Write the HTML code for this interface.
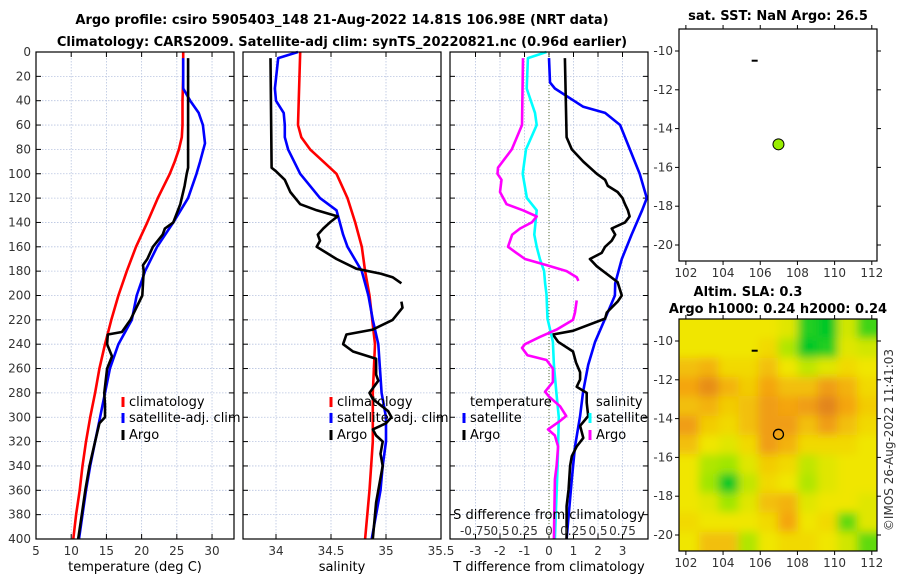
<!DOCTYPE html>
<html><head><meta charset="utf-8">
<style>
html,body{margin:0;padding:0;background:#fff;}
svg{display:block;font-family:"DejaVu Sans","Liberation Sans",sans-serif;}
.tk{font-size:12px;fill:#333;}
.ttl{font-size:13px;font-weight:bold;fill:#000;}
.lg{font-size:13px;fill:#000;}
</style></head>
<body>
<svg id="chart" width="900" height="580" viewBox="0 0 900 580" xmlns="http://www.w3.org/2000/svg">
<defs>
<clipPath id="mapclip"><rect x="679" y="319" width="198" height="232"/></clipPath>
<filter id="blur" x="-5%" y="-5%" width="110%" height="110%"><feGaussianBlur stdDeviation="4.5"/></filter>
</defs>
<text class="ttl" x="342" y="24" text-anchor="middle">Argo profile: csiro 5905403_148 21-Aug-2022 14.81S 106.98E (NRT data)</text>
<text class="ttl" x="342" y="46" text-anchor="middle">Climatology: CARS2009. Satellite-adj clim: synTS_20220821.nc (0.96d earlier)</text>
<g id="g"></g>
</svg>
<script>
// ===== data =====
const tClimDepth=[0,20,40,60,70,80,90,100,120,140,160,180,200,220,240,260,280,300,320,340,360,380,400];
const tClimVals=[25.9,25.9,25.8,25.8,25.7,25.3,24.7,24.0,22.3,20.8,19.2,17.9,16.7,15.7,14.8,14.0,13.4,12.7,12.1,11.6,11.2,10.7,10.3];
const tSatDepth=[5,30,40,50,60,75,90,100,120,140,160,180,200,220,240,260,280,300,320,340,360,380,400];
const tSatVals=[25.9,25.9,26.9,28.1,28.7,29.0,28.3,27.8,26.6,24.5,22.2,20.5,19.3,18.6,16.7,15.5,14.8,14.1,13.4,12.7,12.1,11.6,11.1];
const tArgoDepth=[5,95,100,110,125,140,145,150,160,170,175,180,190,200,220,230,232,240,250,260,280,290,300,305,320,340,360,380,400];
const tArgoVals=[26.6,26.6,26.4,26.1,25.5,24.5,23.3,23.0,21.6,20.8,20.2,20.3,20.2,20.1,18.4,17.2,15.2,15.1,15.8,15.1,14.7,14.8,14.8,14.0,13.4,12.6,12.0,11.5,11.0];

const sClimDepth=[0,60,70,80,90,100,120,140,160,180,200,240,280,320,360,400];
const sClimVals=[34.22,34.20,34.23,34.31,34.43,34.55,34.65,34.72,34.78,34.81,34.85,34.90,34.88,34.88,34.85,34.81];
const sSatDepth=[0,5,30,40,50,60,70,80,100,120,130,140,150,160,180,200,220,240,280,300,320,340,360,400];
const sSatVals=[34.2,34.02,33.99,34.0,34.07,34.08,34.08,34.11,34.22,34.4,34.55,34.58,34.61,34.65,34.78,34.84,34.88,34.93,34.96,35.0,35.0,34.97,34.95,34.87];
const sArgoDepth=[5,95,98,105,115,125,130,135,140,145,150,155,160,165,170,178,182,185,190,null,205,210,220,228,232,240,246,252,265,270,280,285,295,300,305,310,315,320,330,340,350,370,400];
const sArgoVals=[33.95,33.96,34.0,34.08,34.13,34.22,34.37,34.56,34.49,34.43,34.38,34.4,34.37,34.46,34.55,34.73,34.95,35.06,35.14,null,35.14,35.15,35.06,34.88,34.64,34.61,34.70,34.91,34.91,34.93,34.85,34.88,35.02,35.05,35.0,34.88,34.91,34.97,34.95,34.97,34.95,34.91,34.88];

const dTSatDepth=[5,25,30,45,50,60,80,100,120,130,150,170,190,200,219,238,257,279,299,324,351,400];
const dTSatVals=[0,0.04,0.24,1.4,2.29,2.9,3.3,3.7,3.99,3.8,3.37,2.97,2.7,2.69,2.29,1.88,1.6,1.39,1.27,1.06,0.93,0.72];
const dTArgoDepth=[5,70,80,90,100,105,110,115,120,125,130,135,140,145,150,155,160,165,170,176,189,200,205,214,219,229,232,238,246,255,263,269,275,280,288,299,307,317,324,332,340,359,373,400];
const dTArgoVals=[0.65,0.72,0.93,1.4,1.95,2.29,2.4,2.8,3.0,3.1,3.22,3.29,3.1,2.56,2.7,2.56,2.29,2.15,1.67,1.95,2.8,2.97,2.8,2.36,2.29,0.98,0.16,0.37,0.98,1.1,1.27,1.27,1.13,1.54,1.54,1.6,1.27,1.4,1.13,0.93,0.86,0.8,0.72,0.72];
const dSSatDepth=[0,5,30,50,60,80,100,120,130,150,160,170,180,190,199,219,238,257,280,300,340,400];
const dSSatVals=[-0.025,-0.215,-0.228,-0.143,-0.125,-0.235,-0.268,-0.225,-0.125,-0.15,-0.125,-0.093,-0.05,-0.04,-0.025,-0.015,0.04,0.05,0.075,0.1,0.088,0.06];
const dSArgoDepth=[5,60,80,95,100,105,115,125,130,135,140,145,150,160,165,170,175,180,185,188,null,204,214,220,228,234,240,243,249,253,260,271,279,283,291,299,303,310,315,324,340,351,400];
const dSArgoVals=[-0.265,-0.275,-0.38,-0.52,-0.525,-0.485,-0.5,-0.433,-0.265,-0.125,-0.175,-0.295,-0.375,-0.418,-0.333,-0.245,-0.025,0.18,0.283,0.3,null,0.283,0.265,0.245,0.078,-0.093,-0.245,-0.275,-0.22,-0.025,0.04,0.04,-0.04,0,0.113,0.175,0.113,-0.01,0.06,0.093,0.078,0.06,0.05];

const depthTicks=[0,20,40,60,80,100,120,140,160,180,200,220,240,260,280,300,320,340,360,380,400];
const tTicks=[5,10,15,20,25,30];
const sTicks=[34,34.5,35,35.5];
const dTTicks=[-3,-2,-1,0,1,2,3];
const dSTicks=[-0.75,-0.5,-0.25,0,0.25,0.5,0.75];
const dSTickLabels=["-0.75","0.5","0.25","0","0.25","0.5","0.75"];
const lonTicks=[102,104,106,108,110,112];
const latTicks=[-10,-12,-14,-16,-18,-20];
const argoLon=106.98, argoLat=-14.81;
const markLon=105.7, markLat=-10.5;
const slaGrid=[
[1,1,1,1,1,0.9,0.1,0.0,0.8,0.2],
[1,1,1,1,1.1,0.6,0.0,0.1,0.9,0.8],
[1.3,1.4,1.1,1.1,1.3,1.0,0.7,0.9,1.1,1.0],
[1.5,1.8,1.4,1.2,1.5,1.3,1.3,1.6,1.4,1.1],
[1.3,1.4,1.2,1.3,1.6,1.5,1.6,1.9,1.5,1.2],
[1.6,1.2,1.1,1.3,1.6,1.6,1.3,1.6,1.3,1.1],
[1.3,1.0,0.9,1.1,1.6,1.4,1.1,1.1,1.1,1.0],
[1.0,0.6,0.5,0.9,1.2,1.1,0.7,0.9,1.0,1.0],
[1.0,0.5,0.0,0.7,1.1,1.0,0.6,0.9,1.0,1.0],
[1.0,0.9,0.5,0.9,1.3,1.4,0.9,1.0,1.0,0.9],
[1.1,1.0,1.0,1.0,1.1,1.5,1.0,1.1,0.3,0.9],
[1.0,1.3,1.3,0.6,1.0,1.1,1.1,1.0,0.8,0.3]];

// ===== helpers =====
const NS="http://www.w3.org/2000/svg";
const G=document.getElementById('g');
function mk(tag,attrs,parent){const e=document.createElementNS(NS,tag);for(const k in attrs)e.setAttribute(k,attrs[k]);(parent||G).appendChild(e);return e;}
const PT=52,PB=539;
const yD=d=>PT+d*(PB-PT)/400;
const P1={x0:36,x1:234,v0:5,v1:33.12};
const P2={x0:243,x1:441,v0:33.7,v1:35.5};
const P3={x0:450,x1:648,v0:-4.04,v1:4.04};
const sx=(p,v)=>p.x0+(v-p.v0)*(p.x1-p.x0)/(p.v1-p.v0);

function panelFrame(p,name,ticks,ytickLabels){
  const g=mk('g',{});
  
  
  depthTicks.forEach(d=>{
    const y=yD(d);
    const l=mk('line',{x1:p.x0,x2:p.x1,y1:y,y2:y,stroke:'#b8c4e0','stroke-width':0.8,'stroke-dasharray':'1.5,1.5'},g);
    
    
    mk('line',{x1:p.x0,x2:p.x0+5,y1:y,y2:y,stroke:'#000'},g);
    mk('line',{x1:p.x1-5,x2:p.x1,y1:y,y2:y,stroke:'#000'},g);
    if(ytickLabels){const t=mk('text',{x:p.x0-5,y:y+4,'text-anchor':'end',class:'tk'},g);t.textContent=d;
      
      }
  });
  ticks.forEach(v=>{
    const x=sx(p,v);
    const l=mk('line',{x1:x,x2:x,y1:PT,y2:PB,stroke:'#b8c4e0','stroke-width':0.8,'stroke-dasharray':'1.5,1.5'},g);
    
    
    mk('line',{x1:x,x2:x,y1:PB-5,y2:PB,stroke:'#000'},g);
    mk('line',{x1:x,x2:x,y1:PT,y2:PT+5,stroke:'#000'},g);
    const t=mk('text',{x:x,y:PB+16,'text-anchor':'middle',class:'tk'},g);t.textContent=v;
    
    
  });
  return g;
}
function series(p,depths,vals,color,name,mult){
  let d='',pen=false;
  for(let i=0;i<depths.length;i++){
    if(depths[i]===null||vals[i]===null){pen=false;continue;}
    const x=sx(p,vals[i]*(mult||1)),y=yD(depths[i]);
    d+=(pen?'L':'M')+x.toFixed(1)+','+y.toFixed(1);pen=true;
  }
  const e=mk('path',{d:d,fill:'none',stroke:color,'stroke-width':2.6,'stroke-linejoin':'round'});
  
  
}
function frame(p){mk('rect',{x:p.x0,y:PT,width:p.x1-p.x0,height:PB-PT,fill:'none',stroke:'#000','stroke-width':1.2});}
function legend(x,y,color,label,name){
  mk('line',{x1:x,x2:x,y1:y-9,y2:y+1,stroke:color,'stroke-width':3});
  const t=mk('text',{x:x+6,y:y,class:'lg'});t.textContent=label;
  
  
}
function label(x,y,txt,name,cls,anchor){const t=mk('text',{x:x,y:y,'text-anchor':anchor||'middle',class:cls||'lg'});t.textContent=txt;
  
  return t;}

panelFrame(P1,'temperature-panel',tTicks,true);
series(P1,tClimDepth,tClimVals,'#ff0000','temperature-climatology-line');
series(P1,tSatDepth,tSatVals,'#0000ff','temperature-satellite-line');
series(P1,tArgoDepth,tArgoVals,'#000000','temperature-argo-line');
frame(P1);
legend(123,406,'#ff0000','climatology','legend-climatology');
legend(123,422,'#0000ff','satellite-adj. clim','legend-satellite');
legend(123,439,'#000','Argo','legend-argo');
label(135,571,'temperature (deg C)','x-axis-title-temperature');

panelFrame(P2,'salinity-panel',sTicks,false);
series(P2,sClimDepth,sClimVals,'#ff0000','salinity-climatology-line');
series(P2,sSatDepth,sSatVals,'#0000ff','salinity-satellite-line');
series(P2,sArgoDepth,sArgoVals,'#000000','salinity-argo-line');
frame(P2);
legend(331,406,'#ff0000','climatology','legend-climatology-s');
legend(331,422,'#0000ff','satellite-adj. clim','legend-satellite-s');
legend(331,439,'#000','Argo','legend-argo-s');
label(342,571,'salinity','x-axis-title-salinity');

panelFrame(P3,'difference-panel',dTTicks,false);
mk('line',{x1:sx(P3,0),x2:sx(P3,0),y1:PT,y2:PB,stroke:'#556b2f','stroke-width':1,'stroke-dasharray':'1,2'});
series(P3,dTSatDepth,dTSatVals,'#0000ff','temp-diff-satellite-line');
series(P3,dTArgoDepth,dTArgoVals,'#000000','temp-diff-argo-line');
series(P3,dSSatDepth,dSSatVals,'#00ffff','sal-diff-satellite-line',4);
series(P3,dSArgoDepth,dSArgoVals,'#ff00ff','sal-diff-argo-line',4);
frame(P3);
label(470,406,'temperature','legend-title-temperature','lg','start');
legend(464,422,'#0000ff','satellite','legend-temp-satellite');
legend(464,439,'#000','Argo','legend-temp-argo');
label(596,406,'salinity','legend-title-salinity','lg','start');
legend(590,422,'#00ffff','satellite','legend-sal-satellite');
legend(590,439,'#ff00ff','Argo','legend-sal-argo');
label(549,519,'S difference from climatology','s-axis-title');
dSTicks.forEach((v,i)=>{label(sx(P3,v*4),535,dSTickLabels[i],'s-tick-label','tk');});
label(549,571,'T difference from climatology','x-axis-title-tdiff');

const M={x0:679,x1:877,lon0:101.63,lon1:112.28};
const mx=lon=>M.x0+(lon-M.lon0)*(M.x1-M.x0)/(M.lon1-M.lon0);
const myTop=lat=>51+(-10-lat)*19.4;
function mapAxes(off,name){
  const g=mk('g',{});
  
  
  const y0=29+off,y1=261+off;
  lonTicks.forEach(v=>{const x=mx(v);
    mk('line',{x1:x,x2:x,y1:y1,y2:y1+4,stroke:'#000'},g);mk('line',{x1:x,x2:x,y1:y0-4,y2:y0,stroke:'#000'},g);
    const t=mk('text',{x:x,y:y1+16,'text-anchor':'middle',class:'tk'},g);t.textContent=v;
    
    });
  latTicks.forEach(v=>{const y=myTop(v)+off;
    mk('line',{x1:M.x0-4,x2:M.x0,y1:y,y2:y,stroke:'#000'},g);mk('line',{x1:M.x1,x2:M.x1+4,y1:y,y2:y,stroke:'#000'},g);
    const t=mk('text',{x:M.x0-6,y:y+4,'text-anchor':'end',class:'tk'},g);t.textContent=v;
    
    });
  mk('rect',{x:M.x0,y:y0,width:M.x1-M.x0,height:y1-y0,fill:'none',stroke:'#000','stroke-width':1.2},g);
}
function cmap(v){
  const stops=[[0,[0,200,40]],[0.5,[160,230,0]],[1,[240,230,0]],[1.5,[244,165,15]],[2,[222,125,30]]];
  v=Math.max(0,Math.min(2,v));
  for(let i=0;i<stops.length-1;i++){const a=stops[i],b=stops[i+1];
    if(v<=b[0]){const f=(v-a[0])/(b[0]-a[0]);return 'rgb('+a[1].map((c,k)=>Math.round(c+(b[1][k]-c)*f)).join(',')+')';}}
  return 'rgb(222,125,30)';
}
const hg=mk('g',{'clip-path':'url(#mapclip)'});


const hb=mk('g',{filter:'url(#blur)'},hg);
const nR=slaGrid.length,nC=slaGrid[0].length;
const cw=(M.x1-M.x0)/nC, ch=232/nR;
slaGrid.forEach((row,r)=>row.forEach((v,c)=>{
  const e=mk('rect',{x:M.x0+c*cw-(c===0?15:0),y:319+r*ch-(r===0?15:0),width:cw+1+(c===0||c===nC-1?15:0),height:ch+1+(r===0||r===nR-1?15:0),fill:cmap(v)},hb);
  
  
}));
mapAxes(0,'sst-map');
mapAxes(290,'sla-map');
[0,290].forEach(off=>{
  const m=mk('path',{d:'M'+(mx(markLon)-3)+','+(myTop(markLat)+off)+'h6',stroke:'#000','stroke-width':2});
  
  
});
const c1=mk('circle',{cx:mx(argoLon),cy:myTop(argoLat),r:5.5,fill:'#99ee00',stroke:'#000','stroke-width':1});


const c2=mk('circle',{cx:mx(argoLon),cy:myTop(argoLat)+290,r:5,fill:'none',stroke:'#000','stroke-width':1.3});


label(778,20,'sat. SST: NaN Argo: 26.5','sst-map-title','ttl');
label(748,296,'Altim. SLA: 0.3','sla-title','ttl');
label(778,313,'Argo h1000: 0.24 h2000: 0.24','argo-height-title','ttl');
const cr=label(0,0,'©IMOS 26-Aug-2022 11:41:03','copyright','tk');
cr.setAttribute('transform','translate(893,440) rotate(-90)');
</script>
</body></html>
